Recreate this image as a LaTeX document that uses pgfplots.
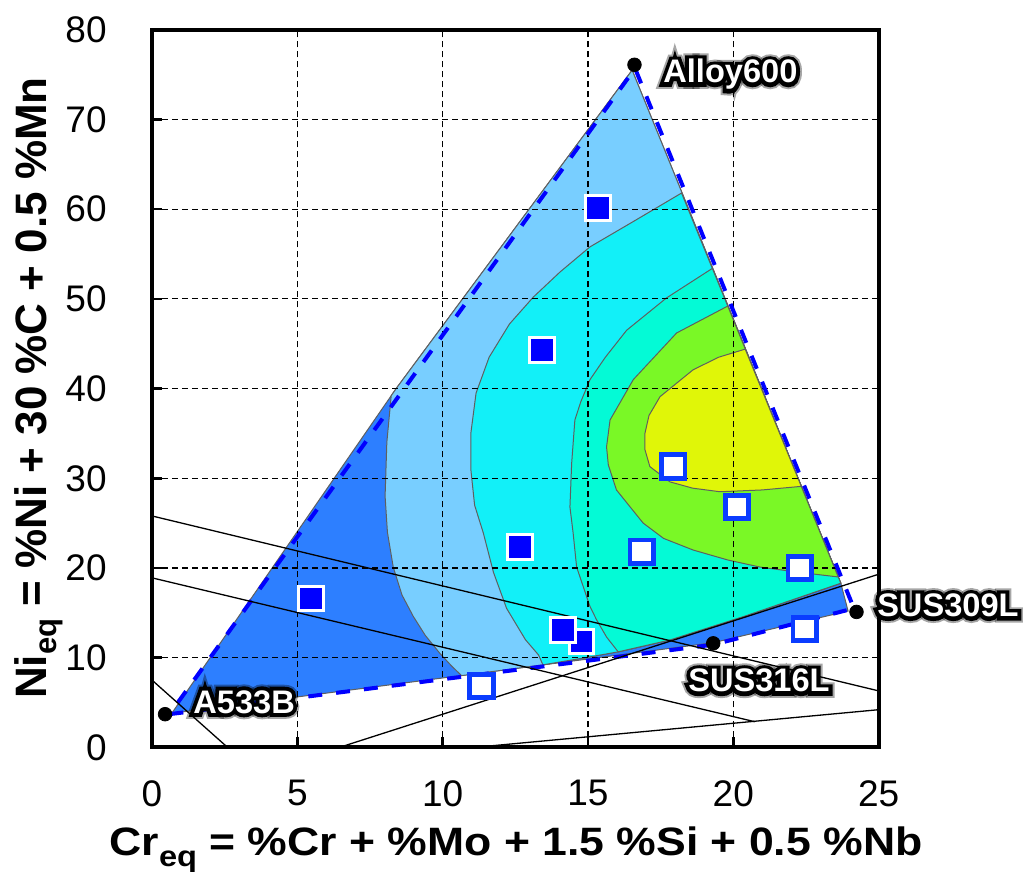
\documentclass[border=0pt]{standalone}
\usepackage{fontspec}
\setmainfont{Liberation Sans}
\newfontfamily\halofont{Liberation Sans Bold}[FakeBold=24]
\newfontfamily\haloblur{Liberation Sans Bold}[FakeBold=36]
\usepackage{graphicx}
\usepackage{pgfplots}
\pgfplotsset{compat=1.18}
\definecolor{cDB}{RGB}{45,127,255}
\definecolor{cLB}{RGB}{120,206,255}
\definecolor{cCY}{RGB}{18,240,248}
\definecolor{cAQ}{RGB}{4,250,214}
\definecolor{cGR}{RGB}{122,248,38}
\definecolor{cYE}{RGB}{224,246,8}
\definecolor{cEdge}{RGB}{95,95,95}
\definecolor{cSq}{RGB}{10,60,255}
\newcommand\lblsize{\fontsize{16.3}{18}\selectfont}
\begin{document}
\begin{tikzpicture}
\begin{axis}[name=ax, set layers,
  scale only axis, width=363.3pt, height=358.8pt,
  xmin=0, xmax=25, ymin=0, ymax=80,
  xtick={0,5,...,25}, ytick={0,10,...,80},
  tick align=inside, tick pos=left, major tick length=5pt,
  every tick/.style={black, line width=1.3pt},
  grid=major, major grid style={black, line width=0.6pt, dash pattern=on 3pt off 2pt},
  axis line style={line width=2pt},
  ticklabel style={font=\fontsize{18.5}{20}\selectfont},
  /pgf/number format/assume math mode=true,
  yticklabel style={inner sep=0pt, xshift=-22.5pt},
  xticklabel style={inner sep=0pt, yshift=-16.3pt},
  xlabel={\scalebox{1.125}[1]{\bfseries Cr\raisebox{-5.5pt}{\fontsize{14.5}{15}\selectfont eq} = \%Cr + \%Mo + 1.5 \%Si + 0.5 \%Nb}},
  xlabel style={at={(axis description cs:0.501,-0.150)}, anchor=base, inner sep=0pt, font=\fontsize{19.8}{22}\selectfont},
  ylabel={\bfseries Ni\raisebox{-5pt}{\fontsize{15.5}{16}\selectfont eq} = \%Ni + 30 \%C + 0.5 \%Mn},
  ylabel style={at={(axis description cs:-0.1449,0.5008)}, anchor=base, inner sep=0pt, font=\fontsize{22}{24}\selectfont},
]
% base region
\addplot[on layer=axis background, fill=cDB, draw=cEdge, line width=0.5pt] coordinates {
 (0.68,3.8) (19.31,11.67) (23.95,15.2) (23.70,18.3) (16.52,75.5) (8.4,40.0)} -- cycle;
% light blue
\addplot[on layer=axis background, fill=cLB, draw=cEdge, line width=0.5pt] coordinates {
 (8.23,39.2) (8.08,34) (8.02,28) (8.1,24) (8.3,20.1) (8.6,17) (8.99,14.6) (9.4,12.5) (9.9,10.5) (10.3,9.1) (10.65,8.0)
 (13.45,9.2) (15.0,10.05) (16.04,10.65) (17.82,11.97) (20.34,14.57) (23.70,18.3) (16.52,75.5) (8.4,40.0)} -- cycle;
% cyan
\addplot[on layer=axis background, fill=cCY, draw=cEdge, line width=0.5pt] coordinates {
 (18.22,61.8) (16.6,58.7) (15.07,55.8) (14.04,53.0) (13.12,50.2) (12.3,47.2) (11.6,43.5) (11.15,39.5) (10.97,35) (10.97,31)
 (11.1,27) (11.4,23.9) (11.75,19.5) (12.2,15.5) (12.85,12.0) (13.3,10.3) (13.45,9.2)
 (15.0,10.05) (16.04,10.65) (17.82,11.97) (20.34,14.57) (23.70,18.3)} -- cycle;
% aquamarine
\addplot[on layer=axis background, fill=cAQ, draw=cEdge, line width=0.5pt] coordinates {
 (19.28,53.4) (17.7,50.1) (16.33,46.5) (15.6,43.5) (15.07,41.0) (14.75,38.5) (14.55,36.5) (14.44,31.7) (14.38,26.8)
 (14.49,23.9) (14.61,20.1) (14.84,17.9) (15.07,15.7) (15.3,14.2) (15.64,12.3) (16.04,10.65)
 (17.82,11.97) (20.34,14.57) (23.70,18.3)} -- cycle;
% green
\addplot[on layer=axis background, fill=cGR, draw=cEdge, line width=0.5pt] coordinates {
 (19.81,49.2) (18.05,46.2) (16.56,41.0) (15.76,36.5) (15.64,33.5) (15.7,31.5) (15.98,28.7) (16.9,25.0) (17.6,23.3)
 (18.62,22.0) (19.8,20.9) (20.92,20.1) (22.3,19.5) (23.61,19.0)} -- cycle;
% yellow
\addplot[on layer=axis background, fill=cYE, draw=cEdge, line width=0.5pt] coordinates {
 (20.41,44.4) (19.5,43.5) (18.62,42.1) (17.48,39.1) (17.1,37) (16.96,35.0) (16.96,33.2) (17.13,31.3) (17.82,29.6)
 (18.6,28.9) (19.54,28.5) (21.0,28.7) (22.34,29.1)} -- cycle;
% dashed boundary
\addplot[draw=blue, line width=2pt, dash pattern=on 7pt off 7pt] coordinates {
 (0.6,3.7) (19.31,11.45) (24.15,15.5) (16.62,75.7)} -- cycle;
% thin black lines
\addplot[black, line width=0.65pt] coordinates {(0,25.8) (25,6.3)};
\addplot[black, line width=0.65pt] coordinates {(0,18.9) (20.74,2.86)};
\addplot[black, line width=0.65pt] coordinates {(11.1,0) (25,4.2)};
\addplot[black, line width=0.65pt] coordinates {(6.45,0) (25,19.3)};
\addplot[black, line width=0.65pt] coordinates {(0,7.5) (2.6,0)};
% filled squares
\addplot[only marks, mark=square*, mark size=6.2pt, mark options={fill=blue, draw=white, line width=1.5pt}] coordinates {
 (15.34,60.1) (13.42,44.3) (12.66,22.3) (5.47,16.6) (14.78,11.8) (14.15,13.1)};
% open squares
\addplot[only marks, mark=square*, mark size=5.9pt, mark options={fill=white, draw=cSq, line width=2.4pt}] coordinates {
 (17.93,31.3) (20.13,26.8) (16.85,21.8) (22.29,20.0) (22.46,13.2) (11.34,6.85)};
% end members
\addplot[only marks, mark=*, mark size=3.4pt, black] coordinates {
 (0.45,3.7) (16.6,76.1) (24.24,15.1) (19.31,11.6)};
\coordinate (lA) at (axis cs:1.41,3.83);
\coordinate (lN) at (axis cs:17.58,74.07);
\coordinate (lS) at (axis cs:24.94,14.56);
\coordinate (lT) at (axis cs:18.44,6.18);
\end{axis}
\foreach \pn/\tx in {lA/A533B, lN/Alloy600, lS/SUS309L, lT/SUS316L}{
  \node[anchor=base west, inner sep=0pt, font=\haloblur\lblsize, text=black, opacity=0.35] at (\pn) {\tx};
  \node[anchor=base west, inner sep=0pt, font=\halofont\lblsize, text=black] at (\pn) {\tx};
  \node[anchor=base west, inner sep=0pt, font=\bfseries\lblsize, text=white] at (\pn) {\tx};
}
\pgfresetboundingbox
\path[use as bounding box] ([shift={(-76pt,-62.3pt)}]ax.south west) rectangle ([shift={(72.2pt,14.9pt)}]ax.north east);
\end{tikzpicture}
\end{document}
